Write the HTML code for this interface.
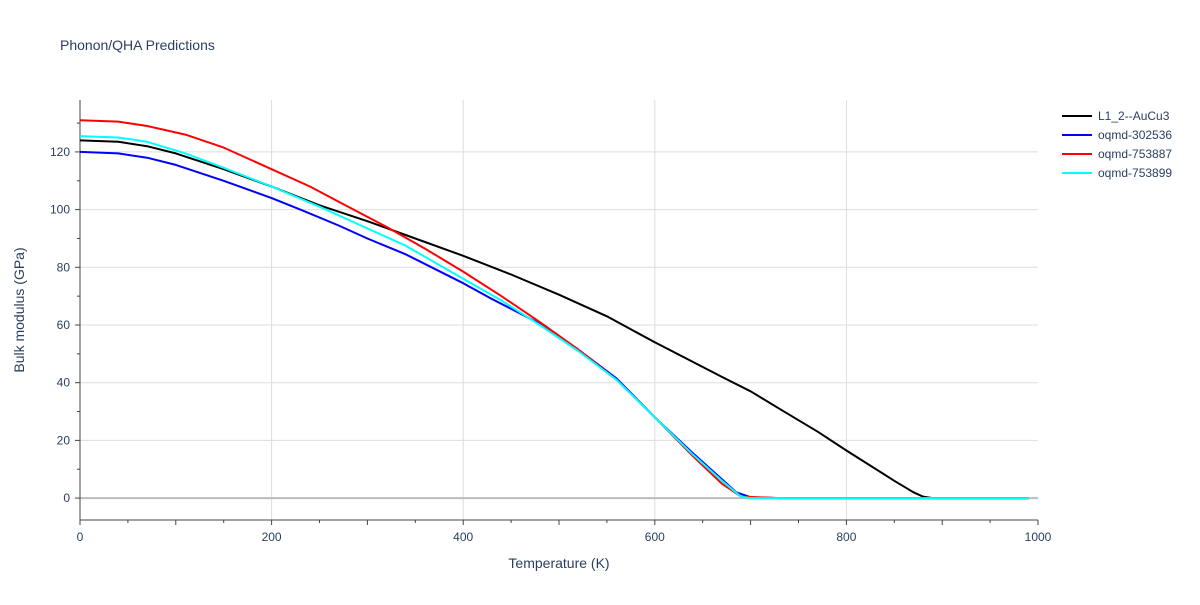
<!DOCTYPE html>
<html><head><meta charset="utf-8"><style>
body{margin:0;background:#fff;font-family:"Liberation Sans",sans-serif}
svg text{font-family:"Liberation Sans",sans-serif;fill:#2a3f5f}
</style></head><body>
<svg id="c" width="1200" height="600" xmlns="http://www.w3.org/2000/svg">
<rect width="1200" height="600" fill="#fff"/>
<text x="60" y="50" font-size="14">Phonon/QHA Predictions</text>
<g id="grid"></g><g id="axes"></g><g id="lines"></g><g id="legend"></g>
<text x="559" y="568" font-size="14" text-anchor="middle">Temperature (K)</text>
<text x="24" y="310" font-size="14" text-anchor="middle" transform="rotate(-90 24 310)">Bulk modulus (GPa)</text>
</svg>
<script>
const xTicks=[0,200,400,600,800,1000];
const yTicks=[0,20,40,60,80,100,120];
const seriesNames=["L1_2--AuCu3","oqmd-302536","oqmd-753887","oqmd-753899"];
const seriesColors=["#000000","#0000ff","#ff0000","#00ffff"];
const tBlack=[0,40,70,100,150,200,250,300,350,400,450,500,550,600,670,700,730,770,800,850,870,880,890,990];
const vBlack=[124,123.5,122,119.5,114,108,101.5,96,90,84,77.5,70.5,63,54,42,37,31,23,16.5,6,2,0.5,0,0];
const tBlue=[0,40,70,100,150,200,230,270,300,340,400,430,480,520,560,600,640,670,685,700,730,990];
const vBlue=[120,119.5,118,115.5,110,104,100,94.5,90,84.5,74.5,69,60.5,51.5,41.5,28,15.5,6.5,2,0.3,0,0];
const tRed=[0,40,70,110,150,200,240,280,320,360,400,440,480,520,560,600,640,670,690,730,990];
const vRed=[131,130.5,129,126,121.5,114,108,101,94,86.5,78.5,70,61,51.5,41,28,14.5,5,0.5,0,0];
const tCyan=[0,40,70,110,150,200,250,300,340,400,440,480,520,560,600,640,670,690,700,990];
const vCyan=[125.5,125,123.5,119.5,114.5,108,101,93.5,87.5,76,68.5,60,51,41,28,15,6,0.5,0,0];
const X0=80,X1=1038,YT=100,YB=520,ymin=-7.6,ymax=138;
const sx=t=>X0+(t/1000)*(X1-X0);
const sy=v=>YB-(v-ymin)/(ymax-ymin)*(YB-YT);
const NS="http://www.w3.org/2000/svg";
function mk(tag,attrs,parent){const e=document.createElementNS(NS,tag);for(const k in attrs)e.setAttribute(k,attrs[k]);document.getElementById(parent).appendChild(e);return e;}
xTicks.forEach(t=>{
 if(t>0&&t<1000){const g=mk('line',{x1:sx(t),x2:sx(t),y1:YT,y2:YB,stroke:'#ddd'},'grid');}
 const l=mk('text',{x:sx(t),y:541,'font-size':12,'text-anchor':'middle'},'axes');l.textContent=t;
 
});
for(let t=0;t<=1000;t+=50){const tk=mk('line',{x1:sx(t),x2:sx(t),y1:YB,y2:YB+(t%100==0?5:3),stroke:'#444'},'axes');}
yTicks.forEach(v=>{
 const g=mk('line',{x1:X0,x2:X1,y1:sy(v),y2:sy(v),stroke:v==0?'#bbb':'#ddd','stroke-width':v==0?2:1},'grid');
 
 const l=mk('text',{x:70,y:sy(v)+4,'font-size':12,'text-anchor':'end'},'axes');l.textContent=v;
 
});
for(let v=0;v<=130;v+=10){const tk=mk('line',{x1:X0,x2:X0-(v%20==0?5:3),y1:sy(v),y2:sy(v),stroke:'#444'},'axes');}
const ax=mk('line',{x1:X0,x2:X0,y1:YT,y2:YB,stroke:'#444'},'axes');
const ax2=mk('line',{x1:X0,x2:X1,y1:YB,y2:YB,stroke:'#444'},'axes');
const T=[tBlack,tBlue,tRed,tCyan],V=[vBlack,vBlue,vRed,vCyan];
[0,1,2,3].forEach(i=>{
 const d=T[i].map((t,j)=>(j?'L':'M')+sx(t).toFixed(1)+','+sy(V[i][j]).toFixed(1)).join('');
 const p=mk('path',{d:d,fill:'none',stroke:seriesColors[i],'stroke-width':2,'stroke-linejoin':'round'},'lines');
 
 
});
seriesNames.forEach((n,i)=>{
 const y=116+i*19;
 const l=mk('line',{x1:1062,x2:1092,y1:y,y2:y,stroke:seriesColors[i],'stroke-width':2},'legend');
 
 const t=mk('text',{x:1098,y:y+4,'font-size':12},'legend');t.textContent=n;
 
});
</script>
</body></html>
